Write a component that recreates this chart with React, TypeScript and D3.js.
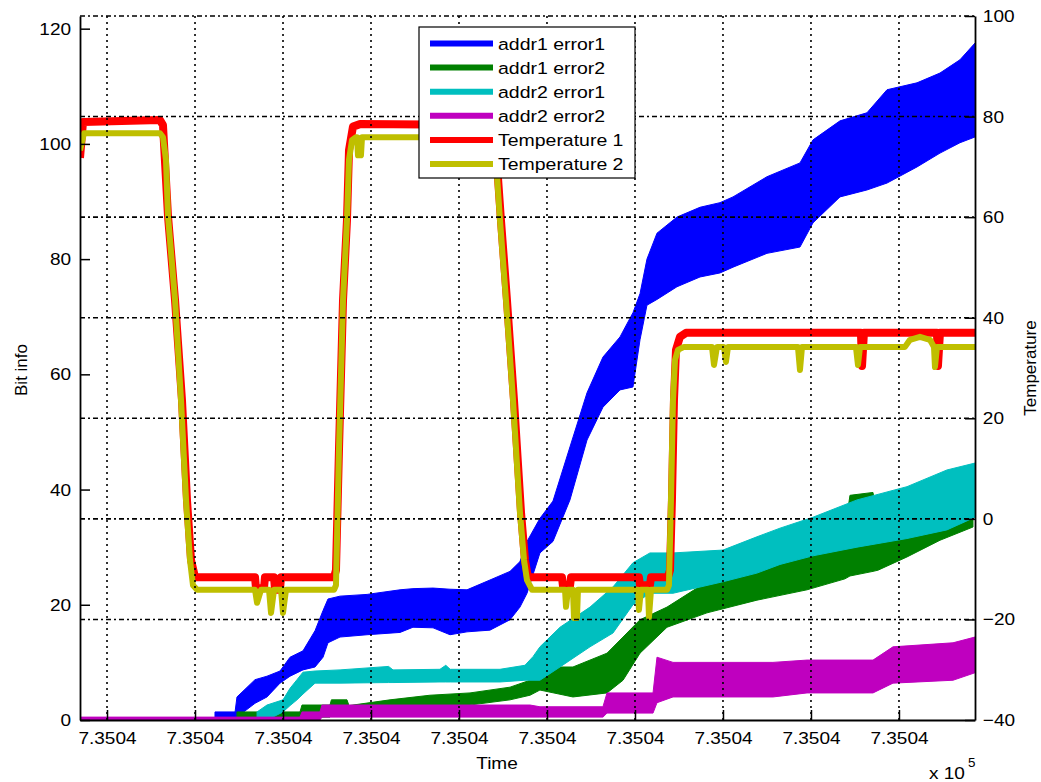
import { useEffect, useRef } from 'react';
import * as d3 from 'd3';

const W = 1041;
const H = 782;
const M = { left: 80, right: 975, top: 16, bottom: 720 };
const FONT = '"Liberation Sans", Arial, Helvetica, sans-serif';

// axes
const timeDomain = [-0.307, 9.864];
const bitDomain = [0, 122.2];
const tempDomain = [-40, 100];
const timeTicks = [0, 1, 2, 3, 4, 5, 6, 7, 8, 9];
const timeTickLabel = '7.3504';
const bitTicks = [0, 20, 40, 60, 80, 100, 120];
const tempTicks = [-40, -20, 0, 20, 40, 60, 80, 100];

// bit error bands: [time, low, high] on the left axis
const addr1Error1: [number, number, number][] = [
  [1.227, 0, 1.4], [1.455, 0, 1.4], [1.477, 0.5, 4], [1.682, 2.9, 7], [1.818, 4, 7.6],
  [1.966, 6.4, 8.5], [2.08, 7.6, 10.9], [2.227, 8.7, 12], [2.364, 9.2, 15.5], [2.455, 10.9, 19],
  [2.511, 13.4, 21], [2.648, 14.4, 21.5], [2.955, 14.8, 21.8], [3.33, 15.2, 22.6], [3.477, 16.1, 22.8],
  [3.705, 16, 22.9], [3.898, 14.8, 22.7], [4.091, 15.3, 22.6], [4.352, 15.6, 24.3], [4.58, 17.4, 25.8],
  [4.693, 19.6, 27.5], [4.773, 22, 31], [4.92, 29, 35], [5.068, 31, 38], [5.261, 38.2, 47.4],
  [5.455, 48.6, 56.8], [5.636, 54.3, 63], [5.83, 57.3, 66.5], [5.977, 57.8, 70.7], [6.057, 66, 74],
  [6.136, 72, 80], [6.25, 73, 84.5], [6.477, 75.2, 87.3], [6.739, 76.9, 89], [6.966, 77.6, 89.8],
  [7.114, 78.6, 90.8], [7.5, 81, 94.3], [7.875, 82.1, 96.7], [8.023, 86.3, 100.7], [8.33, 90.8, 104],
  [8.636, 92, 105.4], [8.864, 93.2, 109.4], [9.205, 96, 110.6], [9.466, 98.4, 112.3], [9.693, 100.2, 114.6],
  [9.864, 101.2, 117.5],
];

const addr1Error2: [number, number, number][] = [
  [1.477, 0, 1.4], [2.193, 0, 1.4], [2.216, 0.5, 2.6], [2.534, 0.5, 2.6], [2.55, 1, 3.5],
  [2.727, 1, 3.5], [2.75, 1, 2.5], [3.216, 2.3, 3.5], [3.67, 2.3, 4.3], [4.125, 2.6, 4.7],
  [4.58, 3.5, 5.7], [4.807, 4.3, 6.9], [4.92, 5.2, 9.2], [5.295, 4, 9.2], [5.682, 4.7, 11.6],
  [5.864, 6.9, 14.4], [6.057, 11.6, 17.4], [6.364, 16.1, 19.6], [6.818, 18.6, 24], [7.386, 20.8, 27],
  [7.955, 22.6, 30], [8.386, 24.5, 33], [8.443, 25, 39], [8.705, 25.8, 39.5], [8.761, 26, 34],
  [9.091, 28.3, 36], [9.466, 31.2, 38], [9.841, 33.5, 40],
];

const addr2Error1: [number, number, number][] = [
  [1.705, 0, 1.4], [1.818, 0, 2.6], [2.0, 1.4, 3.5], [2.08, 2.5, 5.5], [2.159, 3.5, 7],
  [2.227, 4.5, 8.3], [2.364, 6.4, 8.5], [2.648, 6.4, 8.7], [3.2, 6.5, 9.3], [3.25, 6.5, 8.7],
  [3.784, 6.6, 8.8], [3.85, 6.6, 9.5], [3.9, 6.6, 8.8], [4.466, 6.6, 8.8], [4.75, 6.9, 9.5],
  [4.841, 6.9, 11], [4.92, 6.9, 12.7], [5.148, 9.2, 16.1], [5.489, 12.7, 19.6], [5.75, 15.1, 23.1],
  [5.977, 20, 27.3], [6.17, 22, 29], [6.432, 22, 29], [7.0, 24, 29.5], [7.386, 25.5, 31.8],
  [7.648, 27, 33.3], [8.023, 28.5, 35.2], [8.523, 30, 38.2], [9.091, 31.5, 40.5], [9.545, 33, 43.4],
  [9.864, 35.2, 44.6],
];

const addr2Error2: [number, number, number][] = [
  [-0.307, 0, 0.5], [2.193, 0, 0.5], [2.216, 0, 1.4], [2.42, 0, 1.4], [2.443, 0.5, 2.6],
  [4.807, 0.5, 2.6], [4.92, 0.5, 2.3], [5.636, 0.5, 2.3], [5.682, 1.2, 4.7], [6.205, 1.2, 4.7],
  [6.25, 3, 10.9], [6.432, 4, 10], [7.568, 4, 10], [7.955, 4.7, 10.4], [8.705, 4.7, 10.4],
  [8.932, 6.4, 12.7], [9.614, 6.9, 13.4], [9.864, 8.2, 14.4],
];

// temperatures: [time, degrees] on the right axis
const temperature1: [number, number][] = [
  [-0.307, 71.8], [-0.273, 78.9], [0.602, 79.3], [0.636, 78.3], [0.693, 60.2], [0.773, 43.5],
  [0.852, 23.6], [0.909, 3.7], [0.955, -8.2], [1.0, -11.6], [1.682, -11.6], [1.693, -13.8],
  [1.784, -13.8], [1.795, -11.6], [1.898, -11.6], [1.909, -14.1], [1.966, -14.1], [1.977, -11.6],
  [2.58, -11.6], [2.602, -10.2], [2.636, 13.7], [2.682, 43.5], [2.727, 59.4], [2.75, 73.3],
  [2.795, 78.0], [2.875, 78.5], [4.386, 78.3], [4.409, 76.3], [4.477, 59.4], [4.545, 43.5],
  [4.625, 23.6], [4.705, 1.2], [4.75, -8.2], [4.784, -11.6], [5.17, -11.6], [5.182, -13.4],
  [5.261, -13.4], [5.273, -11.6], [6.045, -11.6], [6.057, -13.2], [6.17, -13.2], [6.182, -11.6],
  [6.375, -11.6], [6.398, -10.2], [6.42, 3.7], [6.443, 23.6], [6.466, 33.6], [6.511, 36.2],
  [6.58, 37.0], [8.568, 37.0], [8.58, 30.4], [8.602, 37.0], [9.432, 37.0], [9.443, 30.4],
  [9.466, 37.0], [9.864, 37.0],
];

const temperature2: [number, number][] = [
  [-0.307, 73.3], [-0.261, 76.7], [0.602, 76.7], [0.636, 75.9], [0.67, 71.4], [0.693, 60.2],
  [0.773, 43.5], [0.841, 23.6], [0.898, 3.7], [0.943, -8.2], [0.977, -13.2], [1.023, -14.1],
  [1.682, -14.1], [1.705, -16.7], [1.75, -14.1], [1.841, -14.1], [1.864, -18.7], [1.898, -14.1],
  [1.977, -14.1], [2.0, -18.7], [2.034, -14.1], [2.58, -14.1], [2.602, -13.2], [2.636, 13.7],
  [2.682, 43.5], [2.727, 59.4], [2.75, 71.4], [2.784, 75.3], [2.83, 75.9], [2.841, 75.9],
  [2.852, 72.3], [2.886, 72.3], [2.898, 75.9], [4.386, 75.9], [4.409, 74.3], [4.466, 59.4],
  [4.534, 43.5], [4.614, 23.6], [4.693, 1.2], [4.739, -8.2], [4.773, -12.2], [4.83, -14.1],
  [5.205, -14.1], [5.216, -17.5], [5.239, -14.1], [5.295, -14.1], [5.307, -19.7], [5.341, -19.7],
  [5.352, -14.1], [6.034, -14.1], [6.045, -18.1], [6.068, -14.1], [6.148, -14.1], [6.159, -19.5],
  [6.182, -14.1], [6.364, -14.1], [6.386, -13.2], [6.409, 3.7], [6.432, 23.6], [6.455, 31.6],
  [6.489, 33.6], [6.557, 34.2], [6.875, 34.2], [6.898, 30.6], [6.932, 34.2], [7.011, 34.2],
  [7.034, 31.2], [7.057, 34.2], [7.852, 34.2], [7.875, 29.6], [7.898, 34.2], [8.511, 34.2],
  [8.534, 30.6], [8.557, 34.2], [9.068, 34.2], [9.125, 35.6], [9.239, 36.2], [9.352, 35.6],
  [9.398, 34.2], [9.409, 30.2], [9.432, 34.2], [9.864, 34.2],
];

const bandSeries = [
  { name: 'addr1 error1', color: '#0000ff', data: addr1Error1 },
  { name: 'addr1 error2', color: '#008000', data: addr1Error2 },
  { name: 'addr2 error1', color: '#00bfbf', data: addr2Error1 },
  { name: 'addr2 error2', color: '#bf00bf', data: addr2Error2 },
];
const tempSeries = [
  { name: 'Temperature 1', color: '#ff0000', width: 8, data: temperature1 },
  { name: 'Temperature 2', color: '#bfbf00', width: 6, data: temperature2 },
];

export default function App() {
  const svgRef = useRef<SVGSVGElement>(null);

  useEffect(() => {
    const svg = d3.select(svgRef.current);
    svg.selectAll('*').remove();

    const x = d3.scaleLinear().domain(timeDomain).range([M.left, M.right]);
    const yL = d3.scaleLinear().domain(bitDomain).range([M.bottom, M.top]);
    const yR = d3.scaleLinear().domain(tempDomain).range([M.bottom, M.top]);

    svg.append('rect').attr('width', W).attr('height', H).attr('fill', '#fff');
    svg.append('defs').append('clipPath').attr('id', 'plotClip')
      .append('rect').attr('x', M.left).attr('y', M.top)
      .attr('width', M.right - M.left).attr('height', M.bottom - M.top);

    const plot = svg.append('g').attr('clip-path', 'url(#plotClip)');

    // error bands (noisy signals drawn as min/max envelopes)
    const band = d3.area<[number, number, number]>()
      .x(d => x(d[0])).y0(d => yL(d[1])).y1(d => yL(d[2]));
    bandSeries.forEach(s => {
      plot.append('path').attr('d', band(s.data))
        .attr('fill', s.color).attr('stroke', s.color).attr('stroke-width', 1);
    });

    // temperatures
    const line = d3.line<[number, number]>().x(d => x(d[0])).y(d => yR(d[1]));
    tempSeries.forEach(s => {
      plot.append('path').attr('d', line(s.data))
        .attr('fill', 'none').attr('stroke', s.color).attr('stroke-width', s.width)
        .attr('stroke-linejoin', 'round');
    });

    // grid
    const grid = svg.append('g').attr('stroke', '#000').attr('stroke-width', 1.6);
    timeTicks.forEach(t => {
      grid.append('line').attr('x1', x(t)).attr('x2', x(t)).attr('y1', M.top).attr('y2', M.bottom)
        .attr('stroke-dasharray', '2,4');
    });
    tempTicks.filter(v => v > tempDomain[0]).forEach(v => {
      grid.append('line').attr('x1', M.left).attr('x2', M.right).attr('y1', yR(v)).attr('y2', yR(v))
        .attr('stroke-dasharray', '5,3,2,3');
    });

    const styleAxis = (ax: d3.Selection<SVGGElement, unknown, null, undefined>) => {
      ax.select('.domain').attr('stroke', '#000').attr('stroke-width', 1.8);
      ax.selectAll('.tick line').attr('stroke', '#000').attr('stroke-width', 1.5);
      ax.selectAll('.tick text').attr('fill', '#000').attr('font-family', FONT).attr('font-size', 17)
        .attr('transform', 'scale(1.12,1)');
    };

    svg.append('g').attr('transform', `translate(${M.left},0)`)
      .call(d3.axisLeft(yL).tickValues(bitTicks).tickSizeInner(-10).tickSizeOuter(0).tickPadding(8))
      .call(styleAxis);
    svg.append('g').attr('transform', `translate(${M.right},0)`)
      .call(d3.axisRight(yR).tickValues(tempTicks).tickSizeInner(-10).tickSizeOuter(0).tickPadding(7)
        .tickFormat(d3.format('d')))
      .call(styleAxis);
    svg.append('g').attr('transform', `translate(0,${M.bottom})`)
      .call(d3.axisBottom(x).tickValues(timeTicks).tickSizeInner(-10).tickSizeOuter(0).tickPadding(12)
        .tickFormat(() => timeTickLabel))
      .call(styleAxis);

    // axis titles
    const label = (tx: string, transform: string, size = 17, anchor = 'middle') =>
      svg.append('text').attr('transform', transform).attr('text-anchor', anchor)
        .attr('font-family', FONT).attr('font-size', size).attr('fill', '#000').text(tx);
    label('Time', 'translate(497,769) scale(1.12,1)');
    label('x 10', 'translate(929,779) scale(1.12,1)', 17, 'start');
    label('5', 'translate(968,767) scale(1.12,1)', 12, 'start');
    label('Bit info', 'translate(27,370) rotate(-90)');
    label('Temperature', 'translate(1036,368) rotate(-90)');

    // legend
    const lg = svg.append('g');
    lg.append('rect').attr('x', 419).attr('y', 27).attr('width', 216).attr('height', 151)
      .attr('fill', '#fff').attr('stroke', '#000').attr('stroke-width', 1.2);
    const entries = [
      ...bandSeries.map(s => ({ name: s.name, color: s.color })),
      ...tempSeries.map(s => ({ name: s.name, color: s.color })),
    ];
    entries.forEach((e, i) => {
      const cy = 43.5 + i * 24.1;
      lg.append('line').attr('x1', 430).attr('x2', 493).attr('y1', cy).attr('y2', cy)
        .attr('stroke', e.color).attr('stroke-width', 6);
      lg.append('text').attr('transform', `translate(498,${cy + 6}) scale(1.18,1)`)
        .attr('font-family', FONT).attr('font-size', 16.5).attr('fill', '#000').text(e.name);
    });
  }, []);

  return (
    <svg ref={svgRef} width={W} height={H}
      style={{ position: 'absolute', left: 0, top: 0, display: 'block' }} />
  );
}
